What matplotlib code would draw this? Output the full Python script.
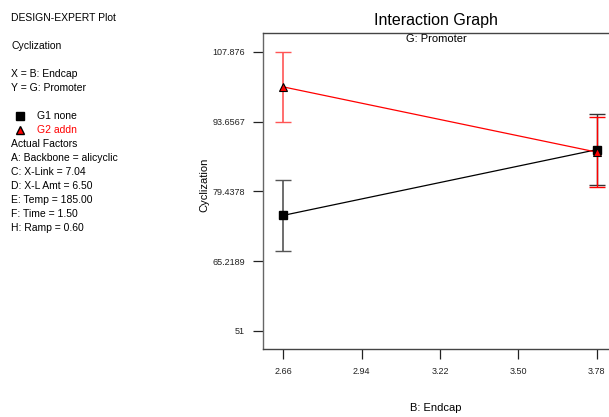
import numpy as np
import matplotlib.pyplot as plt

plt.rcParams['font.family'] = ['Liberation Sans', 'DejaVu Sans']

# data
endcap = [2.66, 3.78]
g1_mean = [74.55, 87.95]
g1_err = [7.3, 7.3]
g2_mean = [100.75, 87.45]
g2_err = [7.1, 7.2]

yticks = [51, 65.2189, 79.4378, 93.6567, 107.876]
ytick_labels = ['51', '65.2189', '79.4378', '93.6567', '107.876']
xticks = [2.66, 2.94, 3.22, 3.50, 3.78]
xtick_labels = ['2.66', '2.94', '3.22', '3.50', '3.78']

info_lines = ['Actual Factors',
              'A: Backbone = alicyclic',
              'C: X-Link = 7.04',
              'D: X-L Amt = 6.50',
              'E: Temp = 185.00',
              'F: Time = 1.50',
              'H: Ramp = 0.60']


def main():
    fig = plt.figure(figsize=(6.09, 4.17), dpi=100)
    ax = fig.add_axes([0.432, 0.163, 0.568, 0.758])

    # error bars
    ax.errorbar(endcap[0], g1_mean[0], yerr=g1_err[0], fmt='none', ecolor='#555555',
                elinewidth=1.2, capsize=6, capthick=1.0, zorder=2)
    ax.errorbar(endcap[0], g2_mean[0], yerr=g2_err[0], fmt='none', ecolor='#ff5555',
                elinewidth=1.2, capsize=6, capthick=1.0, zorder=2)
    ax.errorbar(endcap[1], g1_mean[1], yerr=g1_err[1], fmt='none', ecolor='#333333',
                elinewidth=1.0, capsize=6, capthick=1.0, zorder=2)
    ax.errorbar(endcap[1], g2_mean[1], yerr=g2_err[1], fmt='none', ecolor='red',
                elinewidth=1.0, capsize=6, capthick=1.0, zorder=2)

    ax.plot(endcap, g1_mean, color='black', lw=0.9, zorder=3)
    ax.plot(endcap, g2_mean, color='red', lw=0.9, zorder=3)
    ax.plot(endcap, g1_mean, ls='none', marker='s', ms=6, mfc='black', mec='black', zorder=4)
    ax.plot(endcap, g2_mean, ls='none', marker='^', ms=6, mfc='red', mec='black', mew=0.8, zorder=5)

    ax.set_xlim(2.588, 3.824)
    ax.set_ylim(47.3, 111.75)
    ax.set_xticks(xticks, xtick_labels)
    ax.set_yticks(yticks, ytick_labels)
    ax.tick_params(axis='both', direction='out', length=7, width=0.9, labelsize=6.5,
                   colors='#222222', pad=6)

    ax.spines['right'].set_visible(False)
    ax.spines['left'].set_color('#666666')
    ax.spines['bottom'].set_color('#444444')
    ax.spines['top'].set_color('#444444')
    for s in ['left', 'bottom', 'top']:
        ax.spines[s].set_linewidth(1.0)

    fig.text(0.716, 0.952, 'Interaction Graph', ha='center', va='center', fontsize=11.5)
    fig.text(0.716, 0.906, 'G: Promoter', ha='center', va='center', fontsize=8)
    fig.text(0.716, 0.022, 'B: Endcap', ha='center', va='center', fontsize=8)
    fig.text(0.336, 0.556, 'Cyclization', ha='center', va='center', rotation=90, fontsize=8)

    # left info panel
    def line(y_px, s, **kw):
        fig.text(11 / 609, 1 - y_px / 417, s, ha='left', va='center', fontsize=7.5, **kw)

    line(18, 'DESIGN-EXPERT Plot')
    line(46, 'Cyclization')
    line(74, 'X = B: Endcap')
    line(88, 'Y = G: Promoter')
    fig.lines.append(plt.Line2D([20 / 609], [1 - 116 / 417], transform=fig.transFigure,
                                marker='s', ms=6, color='black', ls='none'))
    fig.lines.append(plt.Line2D([20 / 609], [1 - 130 / 417], transform=fig.transFigure,
                                marker='^', ms=6, mfc='red', mec='black', ls='none'))
    fig.text(37 / 609, 1 - 116 / 417, 'G1 none', ha='left', va='center', fontsize=7.5)
    fig.text(37 / 609, 1 - 130 / 417, 'G2 addn', ha='left', va='center', fontsize=7.5, color='red')
    for i, s in enumerate(info_lines):
        line(144 + 14 * i, s)

    fig.savefig('out.png', dpi=100)


if __name__ == '__main__':
    main()
